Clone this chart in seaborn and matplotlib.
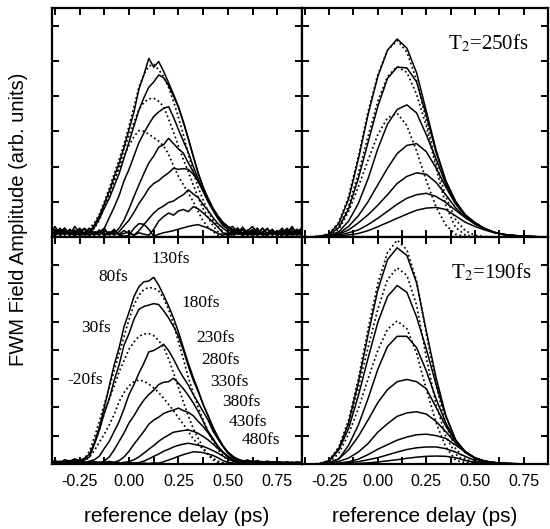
import matplotlib
matplotlib.use("Agg")
import matplotlib.pyplot as plt
from matplotlib.ticker import MultipleLocator
import seaborn as sns

# delay of the probe pulse for each trace
delay_labels = ["-20fs", "30fs", "80fs", "130fs", "180fs", "230fs",
                "280fs", "330fs", "380fs", "430fs", "480fs"]

# reference delay grid (ps) for the measured traces
exp_x = [-0.39, -0.375, -0.35, -0.325, -0.3, -0.275, -0.25, -0.225,
         -0.2, -0.175, -0.15, -0.125, -0.1, -0.075, -0.05, -0.025,
         0.0, 0.025, 0.05, 0.075, 0.1, 0.125, 0.15, 0.175,
         0.2, 0.225, 0.25, 0.275, 0.3, 0.325, 0.35, 0.375,
         0.4, 0.425, 0.45, 0.475, 0.5, 0.525, 0.55, 0.575,
         0.6, 0.625, 0.65, 0.675, 0.7, 0.725, 0.75, 0.775,
         0.8, 0.825, 0.85, 0.875]

# reference delay grid (ps) for the calculated traces
th_x = [-0.39, -0.35, -0.3, -0.25, -0.2, -0.15, -0.1, -0.05, 0.0, 0.05,
        0.1, 0.15, 0.2, 0.25, 0.3, 0.35, 0.4, 0.45, 0.5, 0.55,
        0.6, 0.65, 0.7, 0.8, 0.875]

# ---- measured, upper panel ----
up_m20 = [0.05, 0.10, 0.06, 0.12, 0.08, 0.05, 0.10, 0.06,
          0.10, 0.28, 0.58, 0.90, 1.25, 1.60, 1.95, 2.30,
          2.60, 2.85, 3.02, 3.00, 2.92, 2.82, 2.72, 2.58,
          2.35, 2.02, 1.72, 1.48, 1.25, 1.00, 0.72, 0.45,
          0.28, 0.15, 0.05, 0.02, 0.08, 0.05, 0.10, 0.06,
          0.12, 0.05, 0.08, 0.10, 0.05, 0.12, 0.06, 0.08,
          0.05, 0.10, 0.06, 0.08]
up_30 = [0.08, 0.12, 0.05, 0.10, 0.06, 0.12, 0.05, 0.08,
         0.10, 0.25, 0.48, 0.85, 1.20, 1.60, 2.02, 2.50,
         2.88, 3.25, 3.62, 3.82, 3.92, 3.94, 3.85, 3.70,
         3.35, 2.98, 2.58, 2.20, 1.85, 1.48, 1.12, 0.80,
         0.55, 0.32, 0.15, 0.05, 0.10, 0.05, 0.08, 0.12,
         0.05, 0.10, 0.06, 0.12, 0.05, 0.08, 0.10, 0.05,
         0.08, 0.05, 0.10, 0.06]
up_80 = [0.10, 0.05, 0.15, 0.08, 0.12, 0.05, 0.10, 0.15,
         0.25, 0.40, 0.65, 1.00, 1.38, 1.80, 2.20, 2.65,
         3.15, 3.70, 4.25, 4.62, 4.85, 4.90, 4.75, 4.55,
         4.25, 3.85, 3.40, 2.90, 2.35, 1.85, 1.40, 1.05,
         0.72, 0.48, 0.30, 0.15, 0.05, 0.08, 0.12, 0.05,
         0.10, 0.05, 0.12, 0.08, 0.05, 0.10, 0.06, 0.12,
         0.05, 0.10, 0.08, 0.05]
up_130 = [0.15, 0.30, 0.10, 0.25, 0.05, 0.30, 0.12, 0.22,
          0.15, 0.35, 0.60, 0.95, 1.30, 1.72, 2.10, 2.55,
          3.05, 3.55, 4.20, 4.60, 5.07, 4.82, 4.98, 4.70,
          4.38, 4.05, 3.70, 3.27, 2.80, 2.30, 1.82, 1.40,
          1.10, 0.82, 0.60, 0.42, 0.30, 0.22, 0.12, 0.28,
          0.10, 0.22, 0.05, 0.25, 0.08, 0.20, 0.05, 0.18,
          0.10, 0.30, 0.08, 0.20]
up_180 = [0.05, 0.20, 0.18, 0.05, 0.22, 0.10, 0.25, 0.08,
          0.15, 0.28, 0.52, 0.82, 1.10, 1.45, 1.80, 2.25,
          2.70, 3.15, 3.60, 3.95, 4.25, 4.40, 4.60, 4.52,
          4.30, 4.00, 3.68, 3.25, 2.78, 2.28, 1.80, 1.42,
          1.08, 0.80, 0.58, 0.40, 0.28, 0.18, 0.25, 0.10,
          0.20, 0.08, 0.18, 0.10, 0.25, 0.06, 0.15, 0.05,
          0.20, 0.10, 0.22, 0.12]
up_230 = [0.10, 0.05, 0.20, 0.08, 0.15, 0.03, 0.18, 0.10,
          0.05, 0.15, 0.12, 0.25, 0.55, 0.85, 1.18, 1.60,
          1.92, 2.30, 2.68, 2.95, 3.20, 3.42, 3.55, 3.65,
          3.70, 3.40, 3.05, 2.72, 2.40, 2.00, 1.65, 1.32,
          1.02, 0.78, 0.55, 0.38, 0.25, 0.30, 0.10, 0.22,
          0.05, 0.18, 0.08, 0.25, 0.10, 0.15, 0.04, 0.20,
          0.08, 0.25, 0.12, 0.05]
up_280 = [0.20, 0.08, 0.15, 0.25, 0.05, 0.18, 0.08, 0.12,
          0.25, 0.10, 0.18, 0.05, 0.12, 0.10, 0.25, 0.48,
          0.80, 1.15, 1.48, 1.80, 2.10, 2.30, 2.55, 2.62,
          2.80, 2.65, 2.50, 2.38, 2.10, 1.85, 1.58, 1.30,
          1.00, 0.75, 0.52, 0.32, 0.22, 0.12, 0.25, 0.08,
          0.18, 0.30, 0.10, 0.15, 0.22, 0.05, 0.18, 0.10,
          0.25, 0.06, 0.15, 0.10]
up_330 = [0.08, 0.22, 0.05, 0.15, 0.20, 0.06, 0.15, 0.25,
          0.10, 0.05, 0.20, 0.08, 0.15, 0.05, 0.15, 0.32,
          0.48, 0.70, 0.95, 1.15, 1.38, 1.52, 1.60, 1.72,
          1.82, 1.95, 1.92, 1.94, 1.92, 1.78, 1.58, 1.30,
          1.02, 0.78, 0.55, 0.40, 0.28, 0.18, 0.12, 0.22,
          0.08, 0.15, 0.25, 0.05, 0.12, 0.20, 0.08, 0.15,
          0.05, 0.18, 0.10, 0.28]
up_380 = [0.12, 0.05, 0.25, 0.10, 0.08, 0.20, 0.05, 0.10,
          0.18, 0.08, 0.12, 0.25, 0.05, 0.15, 0.08, 0.18,
          0.10, 0.05, 0.18, 0.35, 0.52, 0.68, 0.80, 0.88,
          0.98, 1.02, 1.12, 1.20, 1.34, 1.22, 1.12, 0.92,
          0.75, 0.55, 0.38, 0.25, 0.15, 0.08, 0.20, 0.05,
          0.15, 0.10, 0.22, 0.08, 0.05, 0.18, 0.12, 0.25,
          0.08, 0.15, 0.05, 0.12]
up_430 = [0.05, 0.15, 0.08, 0.20, 0.12, 0.05, 0.18, 0.08,
          0.06, 0.12, 0.05, 0.18, 0.10, 0.22, 0.06, 0.10,
          0.15, 0.05, 0.12, 0.08, 0.05, 0.22, 0.45, 0.58,
          0.68, 0.62, 0.74, 0.78, 0.72, 0.86, 0.80, 0.68,
          0.55, 0.42, 0.28, 0.12, 0.05, 0.15, 0.08, 0.20,
          0.05, 0.12, 0.18, 0.06, 0.10, 0.22, 0.05, 0.12,
          0.18, 0.05, 0.10, 0.15]
up_480 = [0.10, 0.05, 0.12, 0.18, 0.06, 0.12, 0.22, 0.05,
          0.12, 0.08, 0.15, 0.05, 0.10, 0.18, 0.05, 0.02,
          0.05, 0.25, 0.38, 0.36, 0.22, 0.02, 0.08, 0.12,
          0.15, 0.18, 0.22, 0.26, 0.30, 0.33, 0.35, 0.30,
          0.25, 0.18, 0.10, 0.05, 0.12, 0.06, 0.15, 0.05,
          0.10, 0.18, 0.05, 0.12, 0.08, 0.15, 0.10, 0.05,
          0.12, 0.08, 0.20, 0.10]

# ---- measured, lower panel ----
dn_m20 = [0.03, 0.05, 0.02, 0.04, 0.03, 0.05, 0.02, 0.10,
          0.25, 0.48, 0.78, 1.05, 1.38, 1.75, 2.20, 2.52,
          2.75, 2.90, 2.96, 2.92, 2.82, 2.68, 2.52, 2.32,
          2.10, 1.88, 1.63, 1.40, 1.15, 0.88, 0.70, 0.52,
          0.35, 0.20, 0.10, 0.04, 0.02, 0.03, 0.02, 0.03,
          0.02, 0.03, 0.02, 0.03, 0.02, 0.03, 0.02, 0.03,
          0.02, 0.03, 0.02, 0.03]
dn_30 = [0.04, 0.06, 0.03, 0.05, 0.04, 0.06, 0.03, 0.12,
         0.35, 0.75, 1.20, 1.80, 2.30, 2.75, 3.25, 3.65,
         4.05, 4.30, 4.50, 4.58, 4.60, 4.52, 4.35, 4.12,
         3.70, 3.22, 2.70, 2.18, 1.70, 1.25, 0.90, 0.58,
         0.32, 0.15, 0.05, 0.02, 0.04, 0.02, 0.03, 0.02,
         0.04, 0.02, 0.03, 0.02, 0.04, 0.02, 0.03, 0.02,
         0.03, 0.02, 0.04, 0.02]
dn_80 = [0.05, 0.08, 0.04, 0.07, 0.05, 0.08, 0.06, 0.20,
         0.45, 0.95, 1.50, 2.10, 2.70, 3.30, 3.90, 4.50,
         5.10, 5.60, 5.95, 6.15, 6.22, 6.20, 6.10, 5.85,
         5.45, 4.95, 4.30, 3.70, 3.05, 2.50, 2.00, 1.55,
         1.15, 0.80, 0.50, 0.30, 0.12, 0.05, 0.03, 0.05,
         0.03, 0.05, 0.02, 0.04, 0.03, 0.05, 0.02, 0.04,
         0.03, 0.05, 0.02, 0.04]
dn_130 = [0.08, 0.12, 0.05, 0.15, 0.10, 0.18, 0.12, 0.20,
          0.35, 0.75, 1.30, 2.00, 2.75, 3.50, 4.10, 4.85,
          5.35, 5.90, 6.25, 6.42, 6.45, 6.58, 6.30, 5.95,
          5.57, 5.15, 4.65, 4.10, 3.55, 3.05, 2.60, 2.10,
          1.70, 1.25, 0.92, 0.62, 0.42, 0.25, 0.18, 0.10,
          0.14, 0.08, 0.12, 0.06, 0.10, 0.05, 0.09, 0.04,
          0.08, 0.03, 0.07, 0.05]
dn_180 = [0.05, 0.10, 0.04, 0.12, 0.06, 0.14, 0.08, 0.15,
          0.25, 0.70, 1.20, 1.80, 2.30, 2.95, 3.50, 4.20,
          4.60, 5.10, 5.45, 5.55, 5.60, 5.65, 5.62, 5.40,
          5.15, 4.85, 4.50, 4.00, 3.45, 2.95, 2.55, 2.10,
          1.70, 1.30, 0.95, 0.65, 0.42, 0.28, 0.15, 0.12,
          0.07, 0.10, 0.05, 0.09, 0.04, 0.08, 0.05, 0.07,
          0.03, 0.06, 0.04, 0.06]
dn_230 = [0.10, 0.04, 0.10, 0.05, 0.12, 0.06, 0.10, 0.05,
          0.10, 0.15, 0.28, 0.55, 0.80, 1.15, 1.50, 1.95,
          2.45, 2.80, 3.20, 3.55, 3.95, 4.00, 4.10, 4.22,
          4.00, 3.70, 3.35, 3.05, 2.78, 2.45, 2.15, 1.85,
          1.55, 1.15, 0.88, 0.62, 0.38, 0.22, 0.12, 0.08,
          0.12, 0.05, 0.08, 0.04, 0.09, 0.03, 0.07, 0.05,
          0.02, 0.06, 0.03, 0.05]
dn_280 = [0.06, 0.10, 0.05, 0.08, 0.04, 0.10, 0.06, 0.09,
          0.05, 0.08, 0.04, 0.10, 0.25, 0.50, 0.80, 1.10,
          1.45, 1.70, 2.00, 2.25, 2.45, 2.60, 2.80, 2.88,
          2.90, 3.02, 2.85, 2.65, 2.42, 2.15, 1.85, 1.50,
          1.15, 0.90, 0.62, 0.42, 0.25, 0.15, 0.10, 0.06,
          0.09, 0.04, 0.07, 0.05, 0.08, 0.03, 0.06, 0.04,
          0.07, 0.03, 0.05, 0.04]
dn_330 = [0.04, 0.08, 0.05, 0.10, 0.06, 0.04, 0.09, 0.05,
          0.08, 0.04, 0.07, 0.05, 0.09, 0.06, 0.12, 0.25,
          0.45, 0.70, 0.92, 1.15, 1.40, 1.55, 1.65, 1.78,
          1.85, 1.90, 1.97, 1.88, 1.82, 1.70, 1.50, 1.32,
          1.10, 0.85, 0.62, 0.42, 0.28, 0.15, 0.10, 0.06,
          0.04, 0.08, 0.05, 0.03, 0.07, 0.04, 0.06, 0.03,
          0.05, 0.04, 0.06, 0.03]
dn_380 = [0.06, 0.03, 0.07, 0.04, 0.08, 0.05, 0.03, 0.06,
          0.04, 0.07, 0.03, 0.06, 0.04, 0.05, 0.03, 0.06,
          0.08, 0.15, 0.25, 0.38, 0.52, 0.65, 0.80, 0.92,
          1.02, 1.12, 1.15, 1.18, 1.20, 1.15, 1.08, 0.97,
          0.85, 0.70, 0.55, 0.40, 0.26, 0.16, 0.10, 0.05,
          0.07, 0.04, 0.06, 0.03, 0.05, 0.04, 0.06, 0.03,
          0.05, 0.03, 0.04, 0.05]
dn_430 = [0.03, 0.05, 0.02, 0.06, 0.04, 0.03, 0.05, 0.02,
          0.04, 0.03, 0.05, 0.02, 0.04, 0.03, 0.05, 0.02,
          0.04, 0.03, 0.05, 0.10, 0.18, 0.27, 0.35, 0.45,
          0.52, 0.60, 0.66, 0.70, 0.73, 0.70, 0.66, 0.62,
          0.55, 0.47, 0.38, 0.28, 0.18, 0.10, 0.06, 0.04,
          0.05, 0.03, 0.04, 0.02, 0.04, 0.03, 0.05, 0.02,
          0.04, 0.03, 0.02, 0.04]
dn_480 = [0.02, 0.04, 0.03, 0.02, 0.04, 0.02, 0.03, 0.04,
          0.02, 0.03, 0.02, 0.04, 0.02, 0.03, 0.02, 0.03,
          0.02, 0.03, 0.02, 0.03, 0.02, 0.04, 0.03, 0.08,
          0.14, 0.20, 0.27, 0.33, 0.38, 0.43, 0.42, 0.40,
          0.35, 0.30, 0.22, 0.12, 0.06, 0.03, 0.04, 0.02,
          0.03, 0.02, 0.04, 0.02, 0.03, 0.02, 0.03, 0.02,
          0.03, 0.02, 0.03, 0.02]

# ---- calculated, T2 = 250 fs ----
t250_m20 = [0, 0, 0, 0.04, 0.22, 0.72, 1.42, 2.18, 2.90, 3.38, 3.51, 3.16, 2.44,
            1.60, 0.85, 0.34, 0.08, 0.01, 0, 0, 0, 0, 0, 0, 0]
t250_30 = [0, 0, 0.01, 0.07, 0.30, 0.88, 1.80, 2.85, 3.85, 4.55, 4.84, 4.67, 4.05,
           3.14, 1.96, 0.90, 0.27, 0.06, 0.01, 0, 0, 0, 0, 0, 0]
t250_80 = [0, 0, 0.02, 0.10, 0.42, 1.15, 2.28, 3.55, 4.60, 5.30, 5.58, 5.25, 4.45,
           3.30, 2.10, 1.15, 0.50, 0.18, 0.05, 0.01, 0, 0, 0, 0, 0]
t250_130 = [0, 0, 0.02, 0.08, 0.39, 1.08, 2.20, 3.47, 4.55, 5.30, 5.62, 5.36, 4.66,
            3.57, 2.47, 1.60, 1.02, 0.63, 0.41, 0.24, 0.13, 0.07, 0.04, 0.01, 0]
t250_180 = [0, 0, 0.01, 0.06, 0.27, 0.80, 1.66, 2.68, 3.70, 4.50, 4.82, 4.80, 4.40,
            3.45, 2.40, 1.58, 1.01, 0.63, 0.40, 0.24, 0.13, 0.07, 0.04, 0.01, 0]
t250_230 = [0, 0, 0.01, 0.04, 0.15, 0.45, 0.95, 1.65, 2.50, 3.20, 3.62, 3.75, 3.52,
            2.90, 2.22, 1.50, 0.98, 0.62, 0.40, 0.24, 0.13, 0.07, 0.04, 0.01, 0]
t250_280 = [0, 0, 0.01, 0.03, 0.10, 0.30, 0.60, 1.00, 1.48, 1.95, 2.37, 2.60, 2.65,
            2.42, 1.96, 1.42, 0.94, 0.60, 0.39, 0.24, 0.13, 0.07, 0.04, 0.01, 0]
t250_330 = [0, 0, 0.01, 0.03, 0.08, 0.20, 0.40, 0.63, 0.90, 1.20, 1.52, 1.72, 1.82,
            1.78, 1.55, 1.20, 0.83, 0.56, 0.37, 0.23, 0.13, 0.07, 0.04, 0.01, 0]
t250_380 = [0, 0, 0, 0.02, 0.05, 0.12, 0.20, 0.35, 0.53, 0.73, 0.93, 1.10, 1.20,
            1.24, 1.15, 0.98, 0.76, 0.55, 0.37, 0.23, 0.13, 0.07, 0.04, 0.01, 0]
t250_430 = [0, 0, 0, 0.01, 0.03, 0.06, 0.10, 0.18, 0.29, 0.41, 0.53, 0.65, 0.76,
            0.82, 0.84, 0.78, 0.60, 0.42, 0.30, 0.20, 0.12, 0.07, 0.04, 0.01, 0]

# ---- calculated, T2 = 190 fs ----
t190_m20 = [0, 0, 0, 0.05, 0.38, 1.05, 1.95, 3.00, 4.00, 4.75, 5.04, 4.77, 3.90,
            2.63, 1.46, 0.60, 0.14, 0.02, 0, 0, 0, 0, 0, 0, 0]
t190_30 = [0, 0, 0.01, 0.12, 0.56, 1.40, 2.68, 4.10, 5.45, 6.50, 6.91, 6.65, 5.60,
           3.75, 2.10, 0.98, 0.35, 0.07, 0.01, 0, 0, 0, 0, 0, 0]
t190_80 = [0, 0, 0.01, 0.13, 0.60, 1.55, 3.00, 4.75, 6.35, 7.45, 7.89, 7.55, 6.45,
           4.60, 2.80, 1.40, 0.55, 0.18, 0.04, 0, 0, 0, 0, 0, 0]
t190_130 = [0, 0, 0.01, 0.12, 0.55, 1.45, 2.87, 4.55, 6.12, 7.20, 7.62, 7.35, 6.38,
            4.68, 3.05, 1.72, 0.86, 0.44, 0.22, 0.10, 0.05, 0.02, 0.01, 0, 0]
t190_180 = [0, 0, 0.01, 0.10, 0.50, 1.25, 2.40, 3.72, 4.98, 5.90, 6.29, 6.05, 5.18,
            4.05, 2.80, 1.68, 0.85, 0.42, 0.21, 0.10, 0.05, 0.02, 0.01, 0, 0]
t190_230 = [0, 0, 0, 0.04, 0.18, 0.66, 1.37, 2.30, 3.33, 4.14, 4.50, 4.50, 4.10,
            3.28, 2.30, 1.45, 0.80, 0.40, 0.20, 0.10, 0.05, 0.02, 0.01, 0, 0]
t190_280 = [0, 0, 0, 0.04, 0.18, 0.50, 0.97, 1.55, 2.16, 2.62, 2.90, 2.98, 2.90,
            2.65, 2.00, 1.34, 0.80, 0.42, 0.20, 0.10, 0.05, 0.02, 0.01, 0, 0]
t190_330 = [0, 0, 0, 0.03, 0.09, 0.21, 0.42, 0.72, 1.12, 1.42, 1.68, 1.80, 1.84,
            1.76, 1.50, 1.14, 0.75, 0.44, 0.22, 0.10, 0.05, 0.02, 0.01, 0, 0]
t190_380 = [0, 0, 0, 0.01, 0.03, 0.08, 0.17, 0.33, 0.52, 0.68, 0.84, 0.95, 1.03,
            1.05, 1.00, 0.90, 0.67, 0.42, 0.20, 0.09, 0.04, 0.02, 0.01, 0, 0]
t190_430 = [0, 0, 0, 0.01, 0.02, 0.05, 0.08, 0.15, 0.22, 0.32, 0.42, 0.51, 0.57,
            0.60, 0.60, 0.54, 0.42, 0.27, 0.12, 0.05, 0.02, 0.01, 0, 0, 0]
t190_480 = [0, 0, 0, 0, 0.01, 0.01, 0.02, 0.04, 0.07, 0.11, 0.15, 0.20, 0.24,
            0.27, 0.28, 0.27, 0.22, 0.13, 0.05, 0.02, 0, 0, 0, 0, 0]

# label anchor points in the lower-left panel (ps, arb.)
label_x = [-0.224, -0.165, -0.08, 0.209, 0.362, 0.439, 0.464, 0.507, 0.566, 0.6, 0.668]
label_y = [2.96, 4.78, 6.6, 7.24, 5.66, 4.43, 3.66, 2.9, 2.19, 1.49, 0.85]

sns.set_style("ticks")
plt.rcParams["font.family"] = ["Liberation Sans", "DejaVu Sans"]
plt.rcParams["mathtext.fontset"] = "stix"
plt.rcParams["axes.edgecolor"] = "black"
plt.rcParams["xtick.color"] = "black"
plt.rcParams["ytick.color"] = "black"
plt.rcParams["text.color"] = "black"

fig = plt.figure(figsize=(5.5, 5.29), dpi=100)
ax_ul = fig.add_axes([0.0945, 0.552, 0.4545, 0.4329])
ax_ur = fig.add_axes([0.549, 0.552, 0.447, 0.4329])
ax_ll = fig.add_axes([0.0945, 0.1229, 0.4545, 0.4291])
ax_lr = fig.add_axes([0.549, 0.1229, 0.447, 0.4291])

dotted = (0, (1, 1.6))

panels = [
    (ax_ul, exp_x, [up_m20, up_30, up_80], [up_130, up_180, up_230, up_280,
                                            up_330, up_380, up_430, up_480]),
    (ax_ll, exp_x, [dn_m20, dn_30, dn_80], [dn_130, dn_180, dn_230, dn_280,
                                            dn_330, dn_380, dn_430, dn_480]),
    (ax_ur, th_x, [t250_m20, t250_30, t250_80], [t250_130, t250_180, t250_230,
                                                 t250_280, t250_330, t250_380, t250_430]),
    (ax_lr, th_x, [t190_m20, t190_30, t190_80], [t190_130, t190_180, t190_230, t190_280,
                                                 t190_330, t190_380, t190_430, t190_480]),
]

for ax, xs, dots, solids in panels:
    for ys in solids:
        sns.lineplot(x=xs, y=ys, ax=ax, color="black", linewidth=1.1)
    for ys in dots:
        sns.lineplot(x=xs, y=ys, ax=ax, color="black", linewidth=1.25, linestyle=dotted)

for ax in [ax_ul, ax_ur, ax_ll, ax_lr]:
    ax.set_xlim(-0.39, 0.875)
    ax.xaxis.set_major_locator(MultipleLocator(0.25))
    ax.xaxis.set_minor_locator(MultipleLocator(0.125))
    ax.yaxis.set_major_locator(MultipleLocator(1))
    ax.tick_params(which="both", direction="in", top=True, right=True,
                   length=5, width=1.4, labelsize=11.5, pad=7)
    ax.set_yticklabels([])
    for sp in ax.spines.values():
        sp.set_linewidth(1.6)
        sp.set_color("black")

for ax in [ax_ul, ax_ur]:
    ax.set_ylim(0, 6.5)
    ax.set_xticklabels([])
for ax in [ax_ll, ax_lr]:
    ax.set_ylim(0, 8)
    ax.set_xticks([-0.25, 0.0, 0.25, 0.5, 0.75])
    ax.set_xticklabels(["-0.25", "0.00", "0.25", "0.50", "0.75"])

for lab, lx, ly in zip(delay_labels, label_x, label_y):
    ax_ll.text(lx, ly, lab, ha="center", va="center", fontsize=12.5,
               family=["Liberation Serif", "DejaVu Serif"])

ax_ur.text(0.571, 5.48, "T$_2$=250fs", ha="center", va="center", fontsize=15,
           family=["Liberation Serif", "DejaVu Serif"])
ax_lr.text(0.587, 6.76, "T$_2$=190fs", ha="center", va="center", fontsize=15,
           family=["Liberation Serif", "DejaVu Serif"])

fig.text(0.0945 + 0.4545 / 2, 0.023, "reference delay (ps)", ha="center", va="center", fontsize=15)
fig.text(0.549 + 0.447 / 2, 0.023, "reference delay (ps)", ha="center", va="center", fontsize=15)
fig.text(0.033, 0.585, "FWM Field Amplitude (arb. units)", rotation=90,
         ha="center", va="center", fontsize=14.5)

fig.savefig("out.png", dpi=100)
